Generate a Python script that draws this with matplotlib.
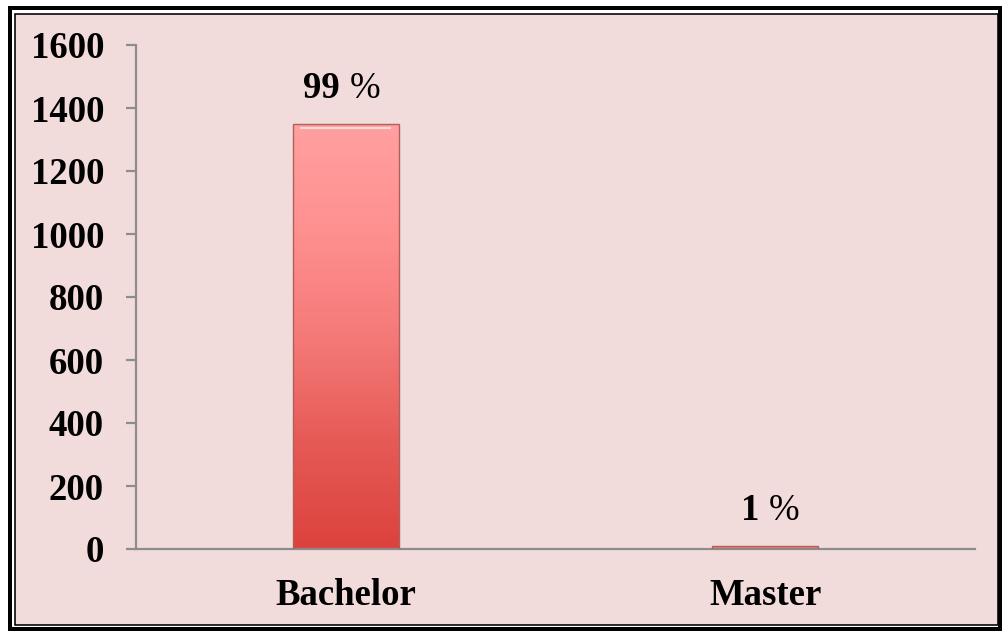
import numpy as np
import matplotlib
matplotlib.use("Agg")
import matplotlib.pyplot as plt
from matplotlib.patches import Rectangle
from matplotlib.colors import LinearSegmentedColormap
from matplotlib.transforms import offset_copy

# Data
categories = ["Bachelor", "Master"]
counts = [1350, 8]
pct_labels = ["99", "1"]
yticks = [0, 200, 400, 600, 800, 1000, 1200, 1400, 1600]

W, H = 1002, 632
fig = plt.figure(figsize=(W / 100, H / 100), dpi=100)
fig.patch.set_facecolor("white")

# double frame around the chart (pixel coords -> figure fraction)
def frame(x0, y0, x1, y1, lw, fc="none", ec="black"):
    r = Rectangle((x0 / W, 1 - y1 / H), (x1 - x0) / W, (y1 - y0) / H,
                  transform=fig.transFigure, facecolor=fc, edgecolor=ec,
                  linewidth=lw * 0.72, zorder=-10)
    fig.patches.append(r)

frame(10, 8, 1000, 629, 4)
frame(15, 14, 998, 625, 1.6, fc="#F2DCDB")

ax = fig.add_axes([136 / W, 1 - 549 / H, (975 - 136) / W, (549 - 45) / H])
ax.set_zorder(1)
ax.set_facecolor("none")

x = np.arange(len(categories))
bar_w = 0.253
bars = ax.bar(x, counts, width=bar_w, color="none", edgecolor="#B0605C",
              linewidth=1.0, zorder=3)

# vertical gradient fill for each bar
cmap = LinearSegmentedColormap.from_list(
    "bar", ["#DC423D", "#E65A56", "#F47A78", "#FF9090", "#FFA0A0"])
grad = np.linspace(0, 1, 256).reshape(-1, 1)
for b in bars:
    x0, y0 = b.get_x(), b.get_y()
    im = ax.imshow(grad, cmap=cmap, origin="lower", aspect="auto",
                   extent=[x0, x0 + b.get_width(), y0, y0 + max(b.get_height(), 1)],
                   zorder=2)
    im.set_clip_path(b)
    # light bevel highlight near the top of tall bars
    if b.get_height() > 100:
        ax.plot([x0 + 0.02, x0 + b.get_width() - 0.02],
                [y0 + b.get_height() - 12] * 2,
                color="white", alpha=0.6, lw=1.5, zorder=4)

ax.set_xlim(-0.5, 1.5)
ax.set_ylim(0, 1600)
ax.set_yticks(yticks)
ax.set_xticks(x)
ax.set_xticklabels(categories)

font = {"family": "Liberation Serif", "weight": "bold", "size": 26.5}
for lbl in ax.get_yticklabels() + ax.get_xticklabels():
    lbl.set_fontproperties(matplotlib.font_manager.FontProperties(**font))

for side in ["top", "right"]:
    ax.spines[side].set_visible(False)
for side in ["left", "bottom"]:
    ax.spines[side].set_color("#8C8C8C")
    ax.spines[side].set_linewidth(1.6)
ax.tick_params(axis="y", length=7, width=1.6, color="#8C8C8C", pad=16)
ax.tick_params(axis="x", length=0, pad=21)

# percentage labels above bars: bold number, regular %
for xi, v, p in zip(x, counts, pct_labels):
    t_left = offset_copy(ax.transData, fig=fig, x=-6, y=26, units="dots")
    t_right = offset_copy(ax.transData, fig=fig, x=4, y=26, units="dots")
    ax.text(xi, v, p, transform=t_left, ha="right", va="baseline",
            family="Liberation Serif", weight="bold", size=26.5)
    ax.text(xi, v, "%", transform=t_right, ha="left", va="baseline",
            family="Liberation Serif", size=26.5)

fig.savefig("out.png", dpi=100)
